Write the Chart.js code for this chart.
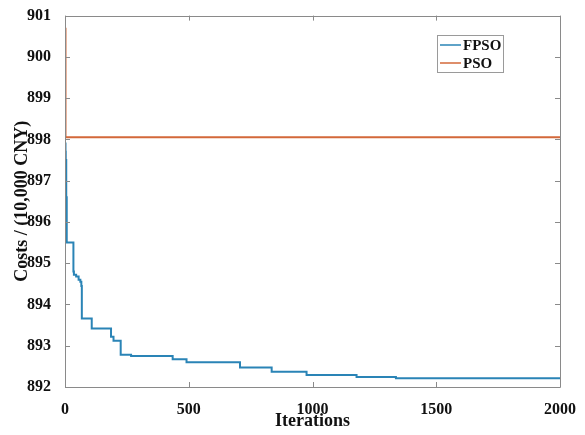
<!DOCTYPE html>
<html>
<head>
<meta charset="utf-8">
<script src="https://cdn.jsdelivr.net/npm/chart.js@4"></script>
<style>
html,body{margin:0;padding:0;background:#fff;}
#wrap{width:585px;height:435px;}
</style>
</head>
<body>
<div id="wrap"><canvas id="c" width="585" height="435"></canvas></div>
<script>
const seriesNames = ['FPSO', 'PSO'];
const fpsoIter = [0, 2, 3, 5, 7, 34, 36, 45, 55, 62, 66, 68, 108, 186, 196, 225, 267, 435, 491, 707, 835, 976, 1178, 1337, 2000];
const fpsoCost = [897.9, 897.7, 897.5, 896.6, 895.5, 894.8, 894.72, 894.68, 894.6, 894.55, 894.45, 893.66, 893.42, 893.22, 893.12, 892.78, 892.75, 892.67, 892.6, 892.47, 892.37, 892.29, 892.24, 892.21, 892.21];
const psoIter = [0, 2, 2000];
const psoCost = [900.68, 898.05, 898.05];
const xTicks = [0, 500, 1000, 1500, 2000];
const yTicks = [892, 893, 894, 895, 896, 897, 898, 899, 900, 901];
const xTitle = 'Iterations';
const yTitle = 'Costs / (10,000 CNY)';

const FONT = "'Liberation Serif', 'Times New Roman', serif";
const colors = ['#2a84b6', '#d3683a'];
Chart.defaults.font.family = FONT;

const framePlugin = {
  id: 'frame',
  afterDraw(chart) {
    const {ctx, chartArea: a, scales} = chart;
    ctx.save();
    ctx.strokeStyle = '#8a8a8a';
    ctx.lineWidth = 1;
    ctx.beginPath();
    ctx.rect(Math.round(a.left) + 0.5, Math.round(a.top) + 0.5, Math.round(a.right - a.left), Math.round(a.bottom - a.top));
    ctx.stroke();
    const tl = 5;
    ctx.beginPath();
    xTicks.forEach(v => {
      const x = Math.round(scales.x.getPixelForValue(v)) + 0.5;
      ctx.moveTo(x, a.bottom); ctx.lineTo(x, a.bottom - tl);
      ctx.moveTo(x, a.top); ctx.lineTo(x, a.top + tl);
    });
    yTicks.forEach(v => {
      const y = Math.round(scales.y.getPixelForValue(v)) + 0.5;
      ctx.moveTo(a.left, y); ctx.lineTo(a.left + tl, y);
      ctx.moveTo(a.right, y); ctx.lineTo(a.right - tl, y);
    });
    ctx.stroke();

    // axis titles
    ctx.fillStyle = '#111';
    ctx.font = 'bold 18px ' + FONT;
    ctx.textAlign = 'center';
    ctx.textBaseline = 'middle';
    ctx.fillText(xTitle, (a.left + a.right) / 2, 421);
    ctx.save();
    ctx.translate(22, (a.top + a.bottom) / 2);
    ctx.rotate(-Math.PI / 2);
    ctx.fillText(yTitle, 0, 0);
    ctx.restore();

    // legend box
    const bx = 437.5, by = 35.5, bw = 66, bh = 37;
    ctx.fillStyle = '#fff';
    ctx.fillRect(bx, by, bw, bh);
    ctx.strokeStyle = '#9a9a9a';
    ctx.strokeRect(bx, by, bw, bh);
    ctx.font = 'bold 15px ' + FONT;
    ctx.textAlign = 'left';
    const rows = [45, 63];
    chart.data.datasets.forEach((ds, i) => {
      ctx.strokeStyle = ds.borderColor;
      ctx.lineWidth = 1.5;
      ctx.beginPath();
      ctx.moveTo(440, rows[i]); ctx.lineTo(461, rows[i]);
      ctx.stroke();
      ctx.fillStyle = '#111';
      ctx.fillText(ds.label, 463, rows[i] + 1);
    });
    ctx.restore();
  }
};

new Chart(document.getElementById('c'), {
  type: 'line',
  data: {
    datasets: [
      {
        label: seriesNames[0],
        data: fpsoIter.map((x, i) => ({x, y: fpsoCost[i]})),
        borderColor: colors[0], borderWidth: 2, pointRadius: 0, stepped: 'before', fill: false
      },
      {
        label: seriesNames[1],
        data: psoIter.map((x, i) => ({x, y: psoCost[i]})),
        borderColor: colors[1], borderWidth: 2, pointRadius: 0, stepped: 'before', fill: false
      }
    ]
  },
  options: {
    responsive: false,
    animation: false,
    layout: {padding: {left: 0, right: 25, top: 15, bottom: 0}},
    plugins: {legend: {display: false}, tooltip: {enabled: false}},
    scales: {
      x: {
        type: 'linear', min: 0, max: 2000,
        afterBuildTicks: s => { s.ticks = xTicks.map(v => ({value: v})); },
        afterFit: s => { s.height = 48; },
        grid: {display: false}, border: {display: false},
        ticks: {color: '#111', font: {family: FONT, size: 16, weight: 'bold'}, padding: 5, maxRotation: 0,
                callback: v => String(v)}
      },
      y: {
        type: 'linear', min: 892, max: 901,
        afterBuildTicks: s => { s.ticks = yTicks.map(v => ({value: v})); },
        afterFit: s => { s.width = 65; },
        grid: {display: false}, border: {display: false},
        ticks: {color: '#111', font: {family: FONT, size: 16, weight: 'bold'}, padding: 6,
                callback: v => String(v)}
      }
    }
  },
  plugins: [framePlugin]
});
</script>
</body>
</html>
